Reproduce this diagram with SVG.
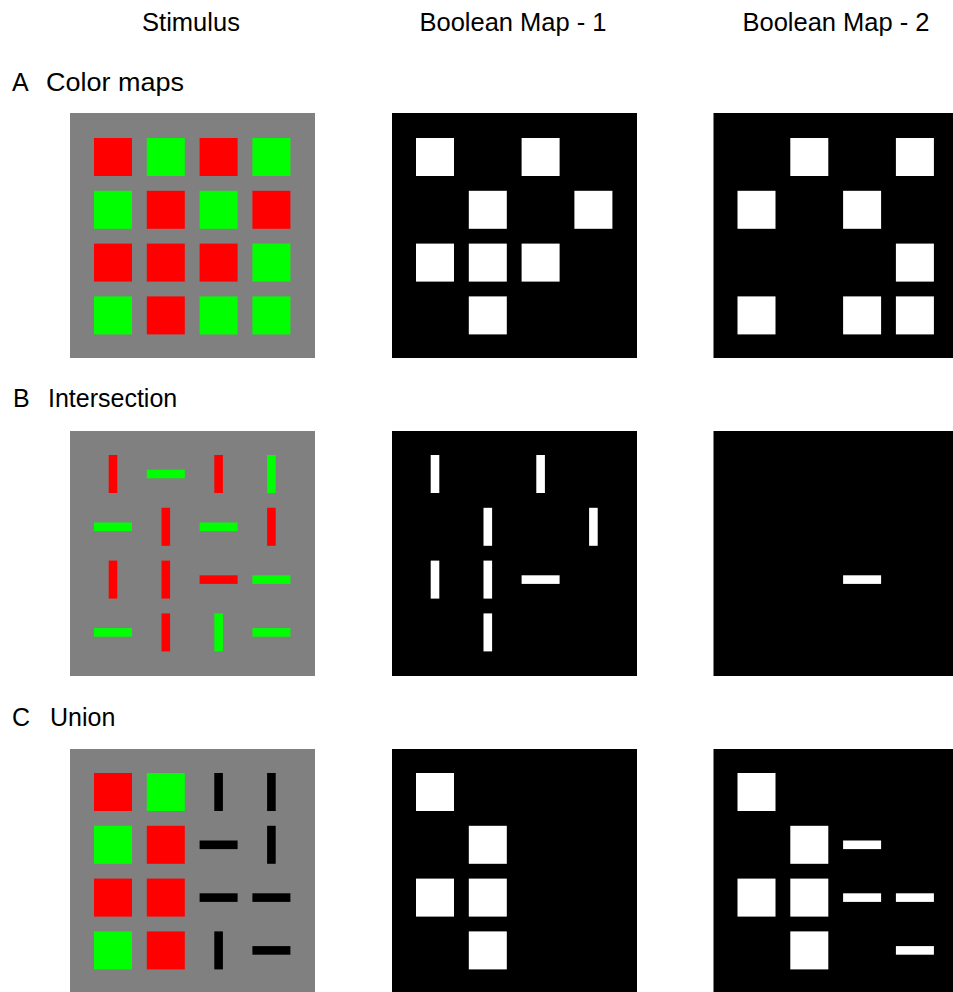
<svg xmlns="http://www.w3.org/2000/svg" xmlns:xlink="http://www.w3.org/1999/xlink" width="953" height="992" viewBox="0 0 953 992">
<style>
  text { font-family: "Liberation Sans", Arial, sans-serif; fill: #000; }
  .hdr { font-size: 25.5px; text-anchor: middle; }
  .sec { font-size: 25px; }
  .bg { fill: #808080; }
  .bk { fill: #000000; }
  .r { fill: #ff0000; }
  .g { fill: #00ff00; }
  .k { fill: #000000; }
  .w { fill: #ffffff; }
</style>
<defs>
  <rect id="sq" width="38" height="38"/>
  <rect id="v" x="14.7" width="8.6" height="38"/>
  <rect id="h" y="14.7" width="38" height="8.6"/>
  <rect id="panel" width="245" height="245"/>
</defs>
<rect width="953" height="992" fill="#ffffff"/>

<g id="headers">
  <text class="hdr" x="191" y="31">Stimulus</text>
  <text class="hdr" x="513" y="31">Boolean Map - 1</text>
  <text class="hdr" x="836" y="31">Boolean Map - 2</text>
</g>

<g id="labels">
  <text class="sec" x="12" y="91">A</text>
  <text class="sec" x="46" y="91" textLength="138" lengthAdjust="spacingAndGlyphs">Color maps</text>
  <text class="sec" x="13" y="407">B</text>
  <text class="sec" x="48" y="407">Intersection</text>
  <text class="sec" x="12" y="726">C</text>
  <text class="sec" x="50" y="726">Union</text>
</g>

<!-- Row A -->
<g id="A-stimulus" transform="translate(70,113)">
  <use href="#panel" class="bg"/>
  <use href="#sq" class="r" x="24" y="25"/><use href="#sq" class="g" x="76.8" y="25"/><use href="#sq" class="r" x="129.6" y="25"/><use href="#sq" class="g" x="182.4" y="25"/>
  <use href="#sq" class="g" x="24" y="77.8"/><use href="#sq" class="r" x="76.8" y="77.8"/><use href="#sq" class="g" x="129.6" y="77.8"/><use href="#sq" class="r" x="182.4" y="77.8"/>
  <use href="#sq" class="r" x="24" y="130.6"/><use href="#sq" class="r" x="76.8" y="130.6"/><use href="#sq" class="r" x="129.6" y="130.6"/><use href="#sq" class="g" x="182.4" y="130.6"/>
  <use href="#sq" class="g" x="24" y="183.4"/><use href="#sq" class="r" x="76.8" y="183.4"/><use href="#sq" class="g" x="129.6" y="183.4"/><use href="#sq" class="g" x="182.4" y="183.4"/>
</g>
<g id="A-map1" transform="translate(392,113)">
  <use href="#panel" class="bk"/>
  <use href="#sq" class="w" x="24" y="25"/><use href="#sq" class="w" x="129.6" y="25"/>
  <use href="#sq" class="w" x="76.8" y="77.8"/><use href="#sq" class="w" x="182.4" y="77.8"/>
  <use href="#sq" class="w" x="24" y="130.6"/><use href="#sq" class="w" x="76.8" y="130.6"/><use href="#sq" class="w" x="129.6" y="130.6"/>
  <use href="#sq" class="w" x="76.8" y="183.4"/>
</g>
<g id="A-map2" transform="translate(713.5,113)">
  <use href="#panel" class="bk"/>
  <use href="#sq" class="w" x="76.8" y="25"/><use href="#sq" class="w" x="182.4" y="25"/>
  <use href="#sq" class="w" x="24" y="77.8"/><use href="#sq" class="w" x="129.6" y="77.8"/>
  <use href="#sq" class="w" x="182.4" y="130.6"/>
  <use href="#sq" class="w" x="24" y="183.4"/><use href="#sq" class="w" x="129.6" y="183.4"/><use href="#sq" class="w" x="182.4" y="183.4"/>
</g>

<!-- Row B -->
<g id="B-stimulus" transform="translate(70,431)">
  <use href="#panel" class="bg"/>
  <use href="#v" class="r" x="24" y="24"/><use href="#h" class="g" x="76.8" y="24"/><use href="#v" class="r" x="129.6" y="24"/><use href="#v" class="g" x="182.4" y="24"/>
  <use href="#h" class="g" x="24" y="76.8"/><use href="#v" class="r" x="76.8" y="76.8"/><use href="#h" class="g" x="129.6" y="76.8"/><use href="#v" class="r" x="182.4" y="76.8"/>
  <use href="#v" class="r" x="24" y="129.6"/><use href="#v" class="r" x="76.8" y="129.6"/><use href="#h" class="r" x="129.6" y="129.6"/><use href="#h" class="g" x="182.4" y="129.6"/>
  <use href="#h" class="g" x="24" y="182.4"/><use href="#v" class="r" x="76.8" y="182.4"/><use href="#v" class="g" x="129.6" y="182.4"/><use href="#h" class="g" x="182.4" y="182.4"/>
</g>
<g id="B-map1" transform="translate(392,431)">
  <use href="#panel" class="bk"/>
  <use href="#v" class="w" x="24" y="24"/><use href="#v" class="w" x="129.6" y="24"/>
  <use href="#v" class="w" x="76.8" y="76.8"/><use href="#v" class="w" x="182.4" y="76.8"/>
  <use href="#v" class="w" x="24" y="129.6"/><use href="#v" class="w" x="76.8" y="129.6"/><use href="#h" class="w" x="129.6" y="129.6"/>
  <use href="#v" class="w" x="76.8" y="182.4"/>
</g>
<g id="B-map2" transform="translate(713.5,431)">
  <use href="#panel" class="bk"/>
  <use href="#h" class="w" x="129.6" y="129.6"/>
</g>

<!-- Row C -->
<g id="C-stimulus" transform="translate(70,749)">
  <use href="#panel" class="bg"/>
  <use href="#sq" class="r" x="24" y="24"/><use href="#sq" class="g" x="76.8" y="24"/><use href="#v" class="k" x="129.6" y="24"/><use href="#v" class="k" x="182.4" y="24"/>
  <use href="#sq" class="g" x="24" y="76.8"/><use href="#sq" class="r" x="76.8" y="76.8"/><use href="#h" class="k" x="129.6" y="76.8"/><use href="#v" class="k" x="182.4" y="76.8"/>
  <use href="#sq" class="r" x="24" y="129.6"/><use href="#sq" class="r" x="76.8" y="129.6"/><use href="#h" class="k" x="129.6" y="129.6"/><use href="#h" class="k" x="182.4" y="129.6"/>
  <use href="#sq" class="g" x="24" y="182.4"/><use href="#sq" class="r" x="76.8" y="182.4"/><use href="#v" class="k" x="129.6" y="182.4"/><use href="#h" class="k" x="182.4" y="182.4"/>
</g>
<g id="C-map1" transform="translate(392,749)">
  <use href="#panel" class="bk"/>
  <use href="#sq" class="w" x="24" y="24"/>
  <use href="#sq" class="w" x="76.8" y="76.8"/>
  <use href="#sq" class="w" x="24" y="129.6"/><use href="#sq" class="w" x="76.8" y="129.6"/>
  <use href="#sq" class="w" x="76.8" y="182.4"/>
</g>
<g id="C-map2" transform="translate(713.5,749)">
  <use href="#panel" class="bk"/>
  <use href="#sq" class="w" x="24" y="24"/>
  <use href="#sq" class="w" x="76.8" y="76.8"/><use href="#h" class="w" x="129.6" y="76.8"/>
  <use href="#sq" class="w" x="24" y="129.6"/><use href="#sq" class="w" x="76.8" y="129.6"/><use href="#h" class="w" x="129.6" y="129.6"/><use href="#h" class="w" x="182.4" y="129.6"/>
  <use href="#sq" class="w" x="76.8" y="182.4"/><use href="#h" class="w" x="182.4" y="182.4"/>
</g>

<g id="connectors"/>
</svg>
